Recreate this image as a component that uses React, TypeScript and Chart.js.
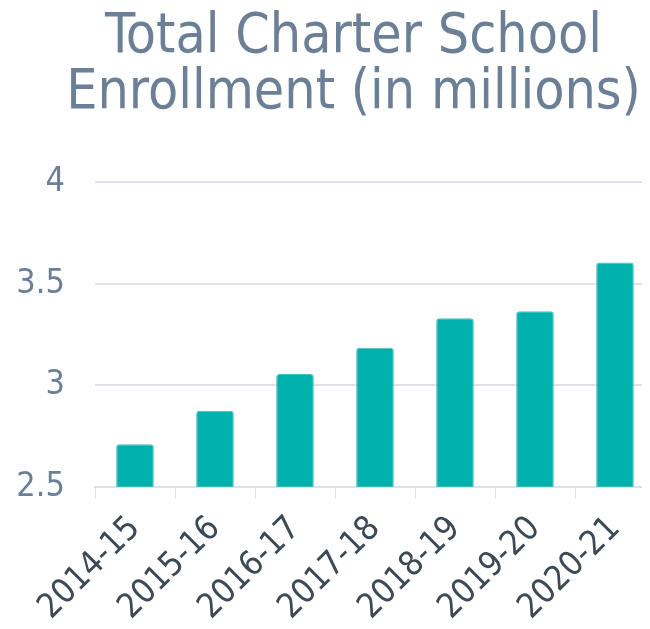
import React, { useEffect, useRef } from "react";
import { Chart, registerables } from "chart.js";

Chart.register(...registerables);

const categories = ["2014-15", "2015-16", "2016-17", "2017-18", "2018-19", "2019-20", "2020-21"];
const enrollment = [2.71, 2.875, 3.055, 3.185, 3.33, 3.365, 3.605];
const titleLines = ["Total Charter School", "Enrollment (in millions)"];
const yMin = 2.5;
const yMax = 4;
const yStep = 0.5;

const FONT = "'DejaVu Sans Condensed', 'DejaVu Sans', sans-serif";

const titleShift = {
  id: "titleShift",
  afterLayout(chart: any) {
    const t = chart.titleBlock;
    if (t) {
      t.left += 36;
    }
  },
};

export default function App() {
  const ref = useRef<HTMLCanvasElement | null>(null);
  useEffect(() => {
    if (!ref.current) return;
    const chart = new Chart(ref.current, {
      type: "bar",
      data: {
        labels: categories,
        datasets: [
          {
            data: enrollment,
            backgroundColor: "#00b0ad",
            borderColor: "#40c3c0",
            borderWidth: 1,
            borderRadius: 3,
            barPercentage: 0.47,
            categoryPercentage: 1,
          },
        ],
      },
      plugins: [titleShift],
      options: {
        animation: false,
        responsive: true,
        maintainAspectRatio: false,
        layout: { autoPadding: false, padding: { left: 8, right: 10, top: 0, bottom: 7 } },
        plugins: {
          legend: { display: false },
          tooltip: { enabled: false },
          title: {
            display: true,
            text: titleLines,
            color: "#6b8096",
            font: { family: FONT, size: 55, weight: "normal", lineHeight: 1.02 },
            padding: { top: 2, bottom: 60 },
          },
        },
        scales: {
          x: {
            z: 1,
            afterFit: (scale: any) => {
              scale.paddingLeft = 0;
            },
            grid: { drawOnChartArea: false, drawTicks: true, tickLength: 12, color: "#dde1e6", offset: true },
            border: { display: true, color: "#dde1e6", width: 2 },
            ticks: {
              color: "#3d4954",
              font: { family: FONT, size: 34 },
              minRotation: 45,
              maxRotation: 45,
              autoSkip: false,
              padding: 10,
            },
          },
          y: {
            min: yMin,
            max: yMax,
            afterFit: (scale: any) => {
              scale.width = 79;
            },
            grid: { color: "#dfe3e8", lineWidth: 2, drawTicks: false },
            border: { display: false },
            ticks: {
              stepSize: yStep,
              color: "#6b8096",
              font: { family: FONT, size: 34 },
              padding: 30,
              callback: (v: any) => String(Number(v)),
            },
          },
        },
      },
    });
    return () => chart.destroy();
  }, []);
  return (
    <div style={{ width: 634, height: 613, overflow: "hidden" }}>
      <div style={{ width: 657, height: 637, position: "relative" }}>
        <canvas ref={ref} />
      </div>
    </div>
  );
}
